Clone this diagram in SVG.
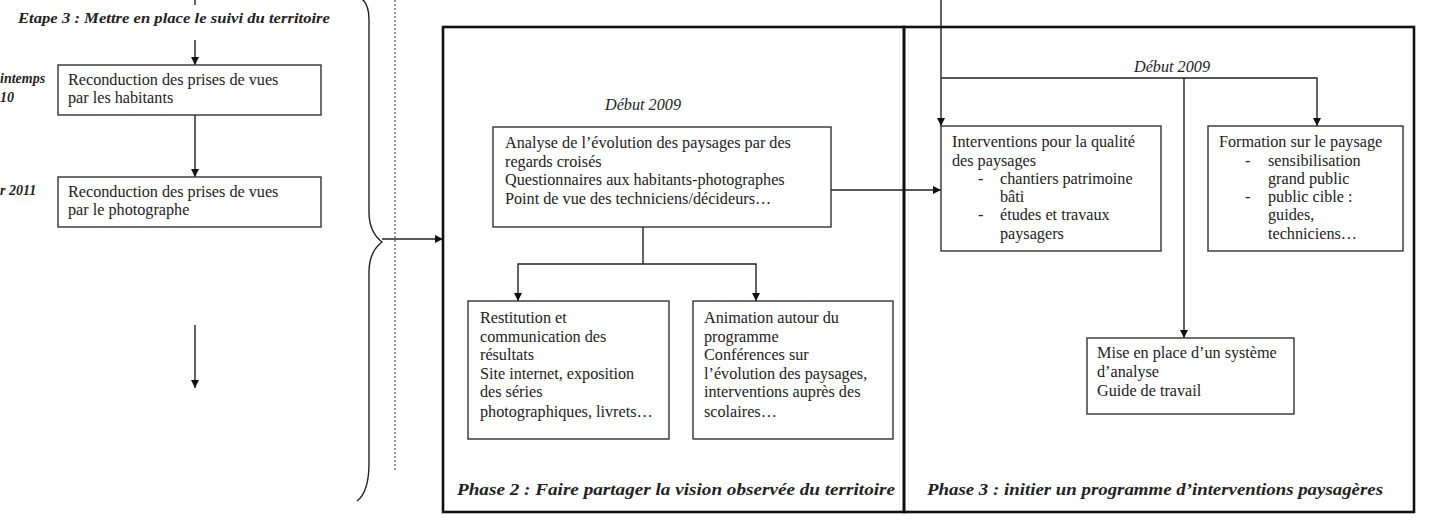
<svg xmlns="http://www.w3.org/2000/svg" width="1436" height="522" viewBox="0 0 1436 522">
<defs>
<marker id="ah" markerUnits="userSpaceOnUse" markerWidth="9" markerHeight="9" refX="8" refY="4" orient="auto">
<path d="M0,0 L8,4 L0,8 z" fill="#111"/>
</marker>
<style>
.t{font-family:"Liberation Serif","Times New Roman",serif;font-size:16.2px;fill:#222}
.i{font-family:"Liberation Serif","Times New Roman",serif;font-size:16.2px;font-style:italic;fill:#222}
.bi{font-family:"Liberation Serif","Times New Roman",serif;font-weight:bold;font-style:italic;fill:#222}
.box{fill:#fff;stroke:#333;stroke-width:1.4}
.phase{fill:none;stroke:#111;stroke-width:2.6}
.c{fill:none;stroke:#222;stroke-width:1.4}
.ca{fill:none;stroke:#222;stroke-width:1.4;marker-end:url(#ah)}
</style>
</defs>
<rect width="1436" height="522" fill="#fff"/>

<g id="phases">
<rect class="phase" x="443" y="27" width="461" height="485"/>
<rect class="phase" x="904" y="27" width="510" height="485"/>
</g>

<g id="connectors">
<line class="c" x1="195" y1="0" x2="195" y2="5"/>
<line class="ca" x1="195" y1="40" x2="195" y2="65"/>
<line class="ca" x1="195" y1="115" x2="195" y2="177"/>
<line class="ca" x1="195" y1="325" x2="195" y2="388"/>
<path class="c" d="M360 -2 Q369 2 369 20 L369 212 Q369 232 382 242 Q369 252 369 272 L369 463 Q369 492 357 501" stroke-width="1.8"/>
<line x1="395" y1="0" x2="395" y2="472" stroke="#777" stroke-width="1.5" stroke-dasharray="2 2"/>
<line class="ca" x1="382" y1="239" x2="443" y2="239"/>
<line class="ca" x1="831" y1="190" x2="941" y2="190"/>
<path class="c" d="M643 227 L643 264"/>
<path class="ca" d="M643 264 L518 264 L518 301"/>
<path class="ca" d="M643 264 L756 264 L756 301"/>
<line class="ca" x1="941" y1="0" x2="941" y2="126"/>
<path class="ca" d="M941 78 L1317 78 L1317 126"/>
<line class="ca" x1="1184" y1="78" x2="1184" y2="338"/>
</g>

<g id="etape3">
<text class="bi" x="18" y="23" font-size="14" textLength="312" lengthAdjust="spacingAndGlyphs">Etape 3 : Mettre en place le suivi du territoire</text>
</g>
<g id="label-printemps">
<text class="bi" x="0" y="83" font-size="14">intemps</text>
<text class="bi" x="0" y="102" font-size="14">10</text>
</g>
<g id="label-2011">
<text class="bi" x="0" y="195" font-size="14">r 2011</text>
</g>

<g id="box-habitants">
<rect class="box" x="58" y="65" width="263" height="50"/>
<text class="t" x="68" y="85">Reconduction des prises de vues</text>
<text class="t" x="68" y="103">par les habitants</text>
</g>
<g id="box-photographe">
<rect class="box" x="58" y="177" width="263" height="50"/>
<text class="t" x="68" y="197">Reconduction des prises de vues</text>
<text class="t" x="68" y="215">par le photographe</text>
</g>

<g id="debut-phase2">
<text class="i" x="643" y="110" text-anchor="middle">Début 2009</text>
</g>
<g id="box-analyse">
<rect class="box" x="493" y="127" width="338" height="100"/>
<text class="t" x="505" y="148">Analyse de l’évolution des paysages par des</text>
<text class="t" x="505" y="166.7">regards croisés</text>
<text class="t" x="505" y="185.4">Questionnaires aux habitants-photographes</text>
<text class="t" x="505" y="204">Point de vue des techniciens/décideurs…</text>
</g>
<g id="box-restitution">
<rect class="box" x="468" y="301" width="201" height="138"/>
<text class="t" x="480" y="323">Restitution et</text>
<text class="t" x="480" y="342">communication des</text>
<text class="t" x="480" y="360">résultats</text>
<text class="t" x="480" y="379">Site internet, exposition</text>
<text class="t" x="480" y="397">des séries</text>
<text class="t" x="480" y="417">photographiques, livrets…</text>
</g>
<g id="box-animation">
<rect class="box" x="693" y="301" width="200" height="138"/>
<text class="t" x="704" y="323">Animation autour du</text>
<text class="t" x="704" y="342">programme</text>
<text class="t" x="704" y="360">Conférences sur</text>
<text class="t" x="704" y="379">l’évolution des paysages,</text>
<text class="t" x="704" y="397">interventions auprès des</text>
<text class="t" x="704" y="417">scolaires…</text>
</g>
<g id="phase2-title">
<text class="bi" x="457" y="495" font-size="17" textLength="438" lengthAdjust="spacingAndGlyphs">Phase 2 : Faire partager la vision observée du territoire</text>
</g>

<g id="debut-phase3">
<text class="i" x="1172" y="72" text-anchor="middle">Début 2009</text>
</g>
<g id="box-interventions">
<rect class="box" x="941" y="126" width="220" height="125"/>
<text class="t" x="952" y="147">Interventions pour la qualité</text>
<text class="t" x="952" y="166">des paysages</text>
<text class="t" x="978" y="184">-</text>
<text class="t" x="1000" y="184">chantiers patrimoine</text>
<text class="t" x="1000" y="202">bâti</text>
<text class="t" x="978" y="220">-</text>
<text class="t" x="1000" y="220">études et travaux</text>
<text class="t" x="1000" y="239">paysagers</text>
</g>
<g id="box-formation">
<rect class="box" x="1208" y="126" width="195" height="125"/>
<text class="t" x="1219" y="147">Formation sur le paysage</text>
<text class="t" x="1245" y="166">-</text>
<text class="t" x="1268" y="166">sensibilisation</text>
<text class="t" x="1268" y="184">grand public</text>
<text class="t" x="1245" y="202">-</text>
<text class="t" x="1268" y="202">public cible :</text>
<text class="t" x="1268" y="220">guides,</text>
<text class="t" x="1268" y="239">techniciens…</text>
</g>
<g id="box-systeme">
<rect class="box" x="1087" y="338" width="207" height="76"/>
<text class="t" x="1097" y="358">Mise en place d’un système</text>
<text class="t" x="1097" y="377">d’analyse</text>
<text class="t" x="1097" y="396">Guide de travail</text>
</g>
<g id="phase3-title">
<text class="bi" x="927" y="495" font-size="17" textLength="456" lengthAdjust="spacingAndGlyphs">Phase 3 : initier un programme d’interventions paysagères</text>
</g>
</svg>
